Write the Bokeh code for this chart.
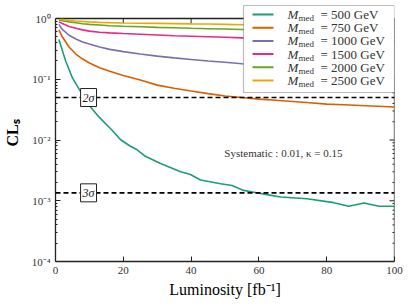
import math
from bokeh.plotting import figure
from bokeh.models import (Range1d, FixedTicker, Span, Label,
                          BoxAnnotation, CustomJSTickFormatter)
from bokeh.embed import file_html
from bokeh.resources import INLINE

# ---------------- data ----------------
lumi_500 = [1, 3, 5, 7, 8.7, 10, 12.8, 16.7, 19.2, 22.1, 24.1, 26.5, 31, 36.9, 39.8,
            42.8, 48.7, 52.1, 55.5, 58.5, 62.4, 66.4, 74.2, 82.1, 86.5, 91, 95.4, 100]
cls_500 = [0.45, 0.20, 0.105, 0.068, 0.05, 0.037, 0.024, 0.0145, 0.0101, 0.0079, 0.0069,
           0.0054, 0.0041, 0.0030, 0.0027, 0.0022, 0.0019, 0.00178, 0.00148, 0.00138,
           0.00126, 0.00115, 0.00108, 0.00093, 0.00081, 0.00092, 0.00081, 0.00081]

lumi = [1, 2, 4, 6, 8, 10, 13, 16, 20, 25, 30, 35, 40, 45, 50, 55, 60, 65, 70, 75, 80, 85, 90, 95, 100]
cls_750 = [0.65, 0.50, 0.34, 0.26, 0.215, 0.185, 0.155, 0.135, 0.115, 0.097, 0.080, 0.071,
           0.064, 0.058, 0.053, 0.050, 0.047, 0.045, 0.043, 0.041, 0.039, 0.038, 0.037, 0.036, 0.035]
cls_1000 = [0.80, 0.66, 0.53, 0.46, 0.41, 0.38, 0.34, 0.31, 0.285, 0.26, 0.24, 0.225, 0.212,
            0.20, 0.19, 0.18, 0.172, 0.166, 0.161, 0.156, 0.152, 0.148, 0.145, 0.142, 0.14]
cls_1500 = [0.88, 0.83, 0.74, 0.69, 0.65, 0.62, 0.595, 0.58, 0.565, 0.55, 0.535, 0.52, 0.51,
            0.50, 0.49, 0.48, 0.47, 0.46, 0.455, 0.45, 0.445, 0.44, 0.435, 0.43, 0.425]
cls_2000 = [0.94, 0.92, 0.88, 0.85, 0.82, 0.80, 0.78, 0.76, 0.745, 0.73, 0.715, 0.705, 0.69,
            0.68, 0.67, 0.66, 0.65, 0.645, 0.64, 0.635, 0.63, 0.625, 0.62, 0.615, 0.61]
cls_2500 = [0.97, 0.96, 0.93, 0.91, 0.895, 0.88, 0.865, 0.855, 0.845, 0.835, 0.83, 0.825,
            0.815, 0.81, 0.80, 0.79, 0.785, 0.78, 0.775, 0.77, 0.765, 0.76, 0.755, 0.75, 0.745]

masses = ["500", "750", "1000", "1500", "2000", "2500"]
colors = ["#1b9e77", "#d95f02", "#7570b3", "#e7298a", "#66a61e", "#e6ab02"]
series_x = [lumi_500, lumi, lumi, lumi, lumi, lumi]
series_y = [cls_500, cls_750, cls_1000, cls_1500, cls_2000, cls_2500]

x_ticks = [0, 20, 40, 60, 80, 100]
y_ticks = [1e-4, 1e-3, 1e-2, 1e-1, 1e0]
sigma_levels = [0.05, 0.00135]
sigma_names = ["2σ", "3σ"]

FONT = "Liberation Serif"
AX = "#222222"

# The drawing frame extends 14 px above the axes box (y = 1) so the legend,
# which overhangs the box in the reference, is not clipped.
DECADE_PX = 60.75
Y_TOP = 10 ** (14 / DECADE_PX)

# ---------------- figure ----------------
p = figure(frame_width=339, frame_height=257, y_axis_type="log",
           x_range=Range1d(x_ticks[0], x_ticks[-1]), y_range=Range1d(y_ticks[0], Y_TOP),
           output_backend="svg", toolbar_location=None,
           min_border_left=50, min_border_right=13, min_border_top=4, min_border_bottom=37)
p.background_fill_color = "white"
p.border_fill_color = "white"
p.outline_line_color = None
p.xgrid.grid_line_color = None
p.ygrid.grid_line_color = None

minor_y = [d * k for d in y_ticks[:-1] for k in range(2, 10)]
log_fmt = CustomJSTickFormatter(code="""
const e = Math.round(Math.log10(tick));
const sup = {"-":"\u207b","0":"\u2070","1":"\u00b9","2":"\u00b2","3":"\u00b3","4":"\u2074",
             "5":"\u2075","6":"\u2076","7":"\u2077","8":"\u2078","9":"\u2079"};
return "10" + String(e).split("").map(c => sup[c]).join("");
""")

def style_axis(ax):
    ax.axis_line_color = AX
    ax.axis_line_width = 1.3
    ax.major_tick_line_color = AX
    ax.minor_tick_line_color = AX
    ax.major_tick_in = 5
    ax.major_tick_out = 0
    ax.minor_tick_in = 2
    ax.minor_tick_out = 0
    ax.major_label_text_font = FONT
    ax.major_label_text_color = "#333333"
    ax.major_label_text_font_size = "11px"
    ax.major_label_standoff = 5

# bottom axis
xa = p.xaxis[0]
xa.ticker = FixedTicker(ticks=x_ticks)
style_axis(xa)
xa.minor_tick_line_color = None
xa.axis_label = "Luminosity [fb\u207b\u00b9]"
xa.axis_label_text_font = FONT
xa.axis_label_text_font_style = "normal"
xa.axis_label_text_font_size = "16px"
xa.axis_label_text_color = "black"
xa.axis_label_standoff = 4

# left axis (line limited to the data box)
ya = p.yaxis[0]
ya.ticker = FixedTicker(ticks=y_ticks, minor_ticks=minor_y)
ya.formatter = log_fmt
ya.bounds = (y_ticks[0], y_ticks[-1])
style_axis(ya)
ya.axis_label = "CL\u209b"
ya.axis_label_text_font = FONT
ya.axis_label_text_font_style = "bold"
ya.axis_label_text_font_size = "16px"
ya.axis_label_text_color = "black"
ya.axis_label_standoff = 8

# top and right edges of the axes box
p.segment(x0=[x_ticks[0], x_ticks[-1]], y0=[y_ticks[-1], y_ticks[0]],
          x1=[x_ticks[-1], x_ticks[-1]], y1=[y_ticks[-1], y_ticks[-1]],
          line_color=AX, line_width=1.3)

# mirrored inward ticks on the top and right edges (rays with screen-unit lengths)
x_top = x_ticks[1:-1]
p.ray(x=x_top, y=[y_ticks[-1]] * len(x_top), length=5, length_units="screen",
      angle=-math.pi / 2, line_color=AX, line_width=1)
y_right = y_ticks[1:-1]
p.ray(x=[x_ticks[-1]] * len(y_right), y=y_right, length=5, length_units="screen",
      angle=math.pi, line_color=AX, line_width=1)
p.ray(x=[x_ticks[-1]] * len(minor_y), y=minor_y, length=2, length_units="screen",
      angle=math.pi, line_color=AX, line_width=1)

# curves
for xs, ys, c in zip(series_x, series_y, colors):
    p.line(xs, ys, line_color=c, line_width=1.6)

# significance lines and their boxed labels
for lvl, name in zip(sigma_levels, sigma_names):
    p.add_layout(Span(location=lvl, dimension="width", line_color="black",
                      line_width=1.6, line_dash="5 3"))
    p.add_layout(Label(x=7.4, y=lvl, text=name, text_baseline="middle", text_align="left",
                       text_font=FONT, text_font_style="italic", text_font_size="12px",
                       text_color="#222222", background_fill_color="white",
                       border_line_color="#222222", border_line_width=1, padding=2))

p.add_layout(Label(x=49.8, y=0.0061, text="Systematic : 0.01, \u03ba = 0.15",
                   text_baseline="middle", text_align="left", text_font=FONT,
                   text_font_size="11px", text_color="#333333"))

# custom legend (screen units, relative to frame bottom-left)
p.add_layout(BoxAnnotation(left=188, right=339, bottom=169, top=256,
                           left_units="screen", right_units="screen",
                           bottom_units="screen", top_units="screen",
                           fill_color="white", fill_alpha=1.0,
                           line_color="#222222", line_width=1.2))
row_top = 247
row_step = 13.2
for i, (m, c) in enumerate(zip(masses, colors)):
    yc = row_top - i * row_step
    p.add_layout(BoxAnnotation(left=197, right=218, bottom=yc - 1, top=yc + 1,
                               left_units="screen", right_units="screen",
                               bottom_units="screen", top_units="screen",
                               fill_color=c, fill_alpha=1.0, line_color=None))
    p.add_layout(Label(x=232, y=yc, x_units="screen", y_units="screen", text="M",
                       text_baseline="middle", text_font=FONT, text_font_style="italic",
                       text_font_size="13px", text_color="#333333"))
    p.add_layout(Label(x=243, y=yc - 3.5, x_units="screen", y_units="screen", text="med",
                       text_baseline="middle", text_font=FONT,
                       text_font_size="9px", text_color="#333333"))
    p.add_layout(Label(x=265, y=yc, x_units="screen", y_units="screen",
                       text="= " + m + " GeV",
                       text_baseline="middle", text_font=FONT,
                       text_font_size="13px", text_color="#333333"))

open("out.html", "w").write(file_html(p, INLINE))
